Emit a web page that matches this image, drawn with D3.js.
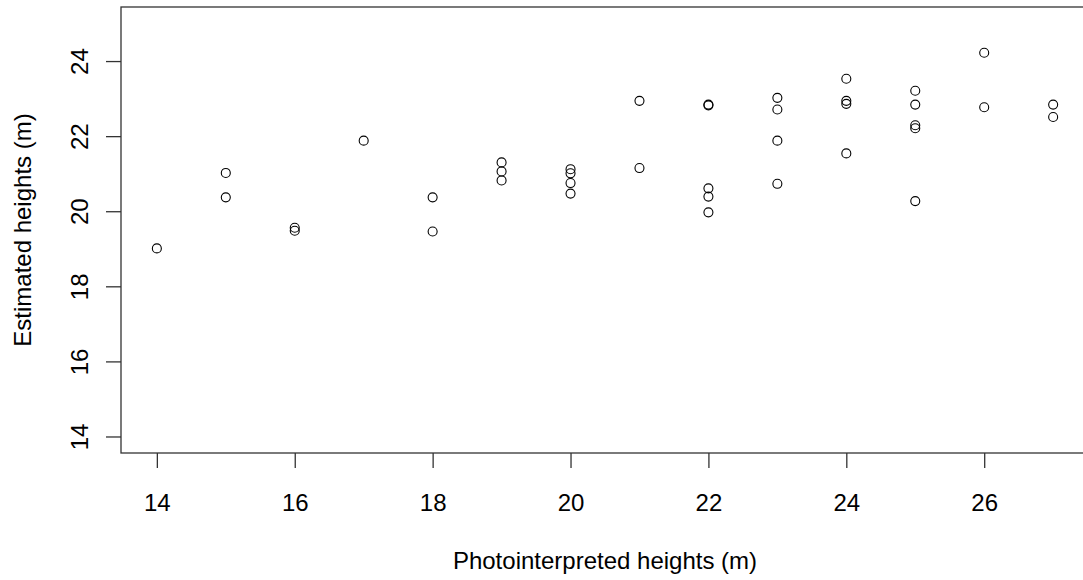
<!DOCTYPE html>
<head>
  <meta charset="utf-8">
  <title>Estimated vs photointerpreted heights</title>
  <script src="https://d3js.org/d3.v7.min.js"></script>
  <style>
    body { margin: 0; background: #fff; }
    text { font-family: "Liberation Sans", Arial, sans-serif; fill: #000; }
  </style>
</head>
<body>
  <svg width="1083" height="580"></svg>

  <script>

  // photointerpreted height (x) and estimated height (y), one entry per tree
  var photoHeights = [14, 15, 15, 16, 16, 17, 18, 18,
                      19, 19, 19, 20, 20, 20, 20, 21, 21,
                      22, 22, 22, 22, 22, 23, 23, 23, 23,
                      24, 24, 24, 24, 25, 25, 25, 25, 25,
                      26, 26, 27, 27];
  var estHeights   = [19.01, 21.02, 20.37, 19.56, 19.48, 21.88, 20.37, 19.46,
                      21.30, 21.06, 20.82, 21.12, 21.01, 20.75, 20.47, 22.94, 21.15,
                      22.84, 22.82, 20.61, 20.39, 19.97, 23.02, 22.71, 21.88, 20.73,
                      23.53, 22.94, 22.86, 21.54, 23.21, 22.84, 22.29, 22.21, 20.27,
                      24.22, 22.77, 22.84, 22.51];

  var xTicks = [14, 16, 18, 20, 22, 24, 26];
  var yTicks = [14, 16, 18, 20, 22, 24];

  var xLabel = "Photointerpreted heights (m)";
  var yLabel = "Estimated heights (m)";

  var svg = d3.select("svg");

  // plot region (right edge falls just outside the window, as in the original)
  var plotLeft = 121, plotRight = 1089, plotTop = 7, plotBottom = 453;

  // R-style 4% padding around the axis limits
  var x = d3.scaleLinear()
      .domain([13.48, 27.52])
      .range([plotLeft, plotRight]);

  var y = d3.scaleLinear()
      .domain([13.56, 25.44])
      .range([plotBottom, plotTop]);

  var axisColor = "#333";

  // box
  svg.append("rect")
      .attr("x", plotLeft)
      .attr("y", plotTop)
      .attr("width", plotRight - plotLeft)
      .attr("height", plotBottom - plotTop)
      .attr("fill", "none")
      .attr("stroke", axisColor)
      .attr("stroke-width", 1.3);

  // x axis
  var xAxis = svg.append("g")
      .attr("transform", "translate(0," + plotBottom + ")")
      .call(d3.axisBottom(x).tickValues(xTicks).tickSize(15).tickPadding(0).tickFormat(d3.format("d")));
  xAxis.select(".domain").remove();
  xAxis.selectAll(".tick line").attr("stroke", axisColor).attr("stroke-width", 1.3);
  xAxis.selectAll(".tick text")
      .attr("y", 57.5)
      .attr("dy", null)
      .attr("font-size", 24)
      .attr("fill", "#000");

  // y axis
  var yAxis = svg.append("g")
      .attr("transform", "translate(" + plotLeft + ",0)")
      .call(d3.axisLeft(y).tickValues(yTicks).tickSize(15).tickFormat(d3.format("d")));
  yAxis.select(".domain").remove();
  yAxis.selectAll(".tick line").attr("stroke", axisColor).attr("stroke-width", 1.3);
  yAxis.selectAll(".tick text")
      .attr("x", null)
      .attr("dy", null)
      .attr("text-anchor", "middle")
      .attr("transform", "translate(-33,0) rotate(-90)")
      .attr("font-size", 24)
      .attr("fill", "#000");

  // axis titles
  svg.append("text")
      .attr("x", (plotLeft + plotRight) / 2)
      .attr("y", 569)
      .attr("text-anchor", "middle")
      .attr("font-size", 24)
      .text(xLabel);

  svg.append("text")
      .attr("transform", "translate(30.5," + ((plotTop + plotBottom) / 2) + ") rotate(-90)")
      .attr("text-anchor", "middle")
      .attr("font-size", 24)
      .text(yLabel);

  // points
  svg.append("g")
    .selectAll("circle")
    .data(d3.range(photoHeights.length))
    .enter().append("circle")
      .attr("cx", function(i) { return x(photoHeights[i]); })
      .attr("cy", function(i) { return y(estHeights[i]); })
      .attr("r", 4.5)
      .attr("fill", "none")
      .attr("stroke", "#000")
      .attr("stroke-width", 1.1);

  </script>
</body>
